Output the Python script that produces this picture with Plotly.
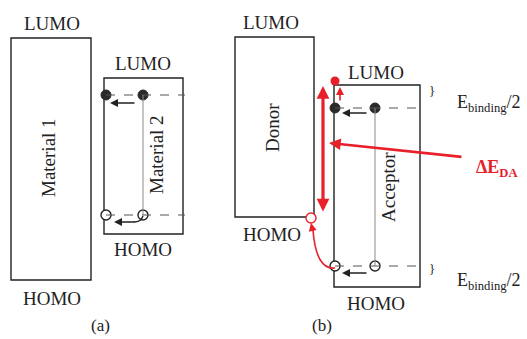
import plotly.graph_objects as go

W, H = 527, 339
FONT = "Liberation Serif"
RED = "#e8202a"
INK = "#222222"
GREY = "#555555"

# Energy-level boxes: (x0, y0, x1, y1) in picture units (y grows downward)
boxes = {
    "Material 1": (11, 38, 91, 280),
    "Material 2": (104, 78, 183, 234),
    "Donor": (235, 37, 314, 217),
    "Acceptor": (334, 85, 420, 287),
}
# Level labels: (text, x, y)
level_labels = [
    ("LUMO", 52, 23), ("HOMO", 52, 298),
    ("LUMO", 143, 63), ("HOMO", 143, 249),
    ("LUMO", 271, 22), ("HOMO", 272, 234),
    ("LUMO", 376, 72), ("HOMO", 376, 303),
]
# Rotated box names: (text, x, y)
box_names = [("Material 1", 48, 158), ("Material 2", 156, 155),
             ("Donor", 272, 128), ("Acceptor", 388, 187)]
panel_labels = [("(a)", 100, 325), ("(b)", 322, 325)]

# Electron (filled) and hole (open) positions
electrons_x = [106, 143, 335, 375]
electrons_y = [95, 95, 108, 108]
holes_x = [106, 143, 335, 375]
holes_y = [215, 215, 266, 266]
# dashed exciton levels: (x0, x1, y)
dashed = [(106, 185, 95), (106, 185, 215), (335, 420, 108), (335, 420, 266)]
# thin vertical exciton links: (x, y0, y1)
links = [(143, 95, 215), (375, 108, 266)]
# small black arrows: (x_tail, x_head, y)
black_arrows = [(136, 110, 103), (136, 114, 222), (368, 342, 113), (368, 342, 273)]

fig = go.Figure()
shapes = []
for name, (x0, y0, x1, y1) in boxes.items():
    shapes.append(dict(type="rect", x0=x0, y0=y0, x1=x1, y1=y1,
                       line=dict(color=INK, width=1.4), layer="below"))
for x0, x1, y in dashed:
    shapes.append(dict(type="line", x0=x0, x1=x1, y0=y, y1=y,
                       line=dict(color=GREY, width=1.2, dash="dash")))
for x, y0, y1 in links:
    shapes.append(dict(type="line", x0=x, x1=x, y0=y0, y1=y1,
                       line=dict(color="#888888", width=1)))
# hook on hole arrow in (a)
shapes.append(dict(type="path", path="M 143,216 Q 141,222 134,222",
                   line=dict(color=INK, width=1.4)))
# red curved hole-transfer arrow in (b)
shapes.append(dict(type="path", path="M 335,268 Q 316,270 313,230",
                   line=dict(color=RED, width=1.6)))

annotations = []
for t, x, y in level_labels:
    annotations.append(dict(x=x, y=y, text=t, showarrow=False,
                            font=dict(family=FONT, size=19, color=INK)))
for t, x, y in box_names:
    annotations.append(dict(x=x, y=y, text=t, showarrow=False, textangle=-90,
                            font=dict(family=FONT, size=19, color=INK)))
for t, x, y in panel_labels:
    annotations.append(dict(x=x, y=y, text=t, showarrow=False,
                            font=dict(family=FONT, size=17, color=INK)))
for xt, xh, y in black_arrows:
    annotations.append(dict(x=xh, y=y, ax=xt, ay=y, axref="x", ayref="y",
                            xref="x", yref="y", text="", showarrow=True,
                            arrowhead=2, arrowsize=1, arrowwidth=1.6,
                            arrowcolor=INK, standoff=0, startstandoff=0))
# red arrows
annotations.append(dict(x=323, y=86, ax=323, ay=213, axref="x", ayref="y",
                        text="", showarrow=True, arrowhead=2, startarrowhead=2,
                        arrowside="end+start", arrowsize=0.8,
                        startarrowsize=0.8, arrowwidth=3.2,
                        arrowcolor=RED, standoff=0, startstandoff=0))
annotations.append(dict(x=329, y=143, ax=463, ay=157, axref="x", ayref="y",
                        text="", showarrow=True, arrowhead=2, arrowsize=0.9,
                        arrowwidth=2.6, arrowcolor=RED, standoff=0))
annotations.append(dict(x=340, y=87, ax=340, ay=102, axref="x", ayref="y",
                        text="", showarrow=True, arrowhead=2, arrowsize=1,
                        arrowwidth=1.6, arrowcolor=RED, standoff=0))
annotations.append(dict(x=311, y=223, ax=313, ay=232, axref="x", ayref="y",
                        text="", showarrow=True, arrowhead=2, arrowsize=1,
                        arrowwidth=1.6, arrowcolor=RED, standoff=0))
# Braces and binding energy labels
for y in (90, 268):
    annotations.append(dict(x=432, y=y, text="}", showarrow=False,
                            font=dict(family=FONT, size=13, color="#222222")))
for y in (103, 281):
    annotations.append(dict(x=455, y=y, xanchor="left", showarrow=False,
                            text="E<sub>binding</sub>/2",
                            font=dict(family=FONT, size=18, color=INK)))
annotations.append(dict(x=474, y=168, xanchor="left", showarrow=False,
                        text="<b>ΔE<sub>DA</sub></b>",
                        font=dict(family=FONT, size=18, color=RED)))

fig.add_trace(go.Scatter(x=electrons_x, y=electrons_y, mode="markers",
                         marker=dict(size=10, color="#2a2a2a",
                                     line=dict(color="#2a2a2a", width=1)),
                         hoverinfo="skip"))
fig.add_trace(go.Scatter(x=holes_x, y=holes_y, mode="markers",
                         marker=dict(size=10, color="white",
                                     line=dict(color=INK, width=1.4)),
                         hoverinfo="skip"))
# transferred carriers in (b)
fig.add_trace(go.Scatter(x=[335], y=[81], mode="markers",
                         marker=dict(size=9, color=RED), hoverinfo="skip"))
fig.add_trace(go.Scatter(x=[311], y=[218], mode="markers",
                         marker=dict(size=10, color="white",
                                     line=dict(color=RED, width=1.4)),
                         hoverinfo="skip"))

fig.update_layout(width=W, height=H, margin=dict(l=0, r=0, t=0, b=0),
                  paper_bgcolor="white", plot_bgcolor="white",
                  showlegend=False, shapes=shapes, annotations=annotations,
                  xaxis=dict(range=[0, W], visible=False, fixedrange=True),
                  yaxis=dict(range=[H, 0], visible=False, fixedrange=True))
fig.write_html("out.html", config={"displayModeBar": False},
               post_script="document.body.style.margin='0';document.body.style.overflow='hidden';")
